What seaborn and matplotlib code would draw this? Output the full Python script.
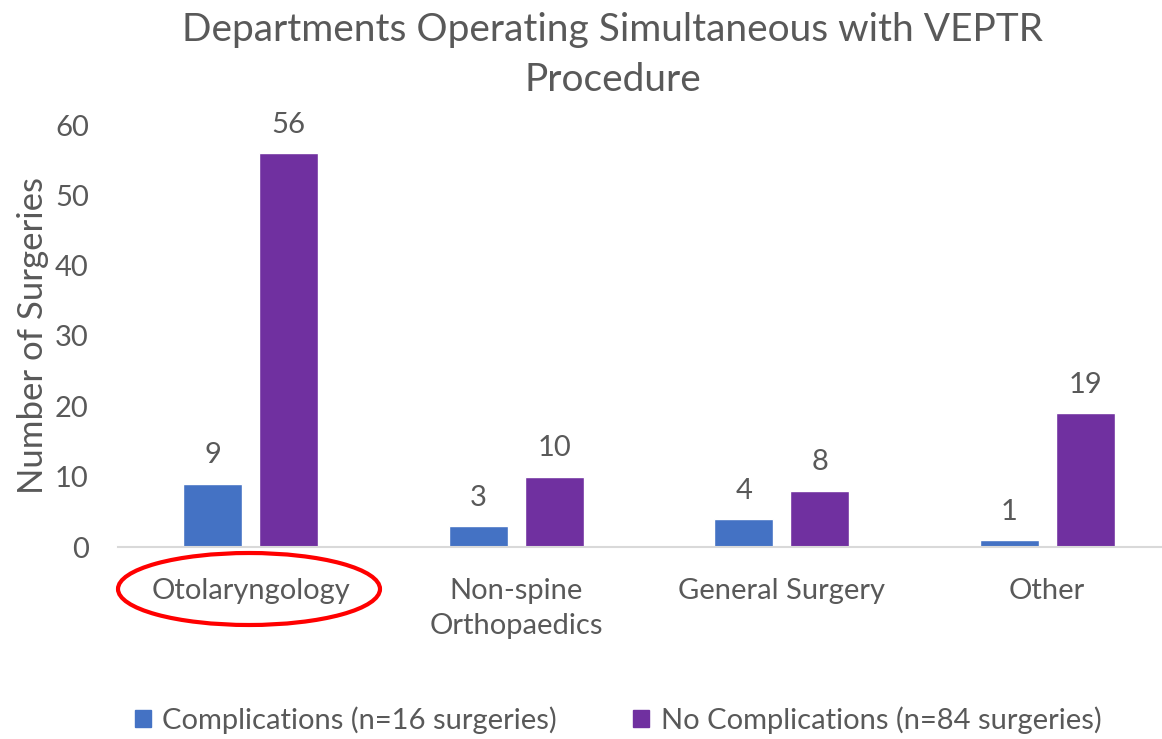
import pandas as pd
import matplotlib.pyplot as plt
import seaborn as sns
from matplotlib.patches import Ellipse

# Data
departments = ['Otolaryngology', 'Non-spine\nOrthopaedics', 'General Surgery', 'Other']
complications = [9, 3, 4, 1]
no_complications = [56, 10, 8, 19]
series_names = ['Complications (n=16 surgeries)', 'No Complications (n=84 surgeries)']
y_ticks = [0, 10, 20, 30, 40, 50, 60]

GRAY = '#595959'
colors = ['#4472C4', '#7030A0']

sns.set_style("white")
plt.rcParams['font.family'] = ['Lato', 'DejaVu Sans']

df = pd.DataFrame({
    'Department': departments * 2,
    'Surgeries': complications + no_complications,
    'Group': [series_names[0]] * len(departments) + [series_names[1]] * len(departments),
})

fig = plt.figure(figsize=(11.62, 7.39), dpi=100)
ax = fig.add_axes([118 / 1162, 1 - 547 / 739, 1062 / 1162, 422 / 739])

sns.barplot(data=df, x='Department', y='Surgeries', hue='Group',
            palette=colors, width=0.572, gap=0.224, ax=ax, legend=False,
            saturation=1)

for container in ax.containers:
    ax.bar_label(container, fontsize=21, color=GRAY, padding=11)

ax.set_xlim(-0.5, 3.5)
ax.set_ylim(0, 60)
ax.set_yticks(y_ticks)
ax.tick_params(axis='y', length=0, labelsize=21, labelcolor=GRAY, pad=21)
ax.tick_params(axis='x', length=0, labelsize=21, labelcolor=GRAY, pad=22)
for lbl in ax.get_xticklabels():
    lbl.set_linespacing(1.45)
ax.set_xlabel('')
ax.set_ylabel('Number of Surgeries', fontsize=25, color=GRAY, labelpad=4)

for side in ['top', 'right', 'left']:
    ax.spines[side].set_visible(False)
ax.spines['bottom'].set_color('#D9D9D9')
ax.spines['bottom'].set_linewidth(1.5)

fig.text(613 / 1162, 1 - 55 / 739,
         'Departments Operating Simultaneous with VEPTR\nProcedure',
         ha='center', va='center', fontsize=28, color=GRAY, linespacing=1.45)

# red ellipse around first category label
ell = Ellipse((249 / 1162, 1 - 589 / 739), 262 / 1162, 72 / 739,
              transform=fig.transFigure, fill=False, edgecolor='#FF0000',
              linewidth=3)
fig.add_artist(ell)

handles = [plt.Rectangle((0, 0), 1, 1, color=c) for c in colors]
fig.legend(handles, series_names, loc='center', bbox_to_anchor=(618 / 1162, 1 - 720 / 739),
           ncol=2, frameon=False, fontsize=21, labelcolor=GRAY,
           handlelength=0.55, handleheight=0.55, handletextpad=0.4, columnspacing=2.6)

plt.savefig('out.png', dpi=100)
plt.close()
